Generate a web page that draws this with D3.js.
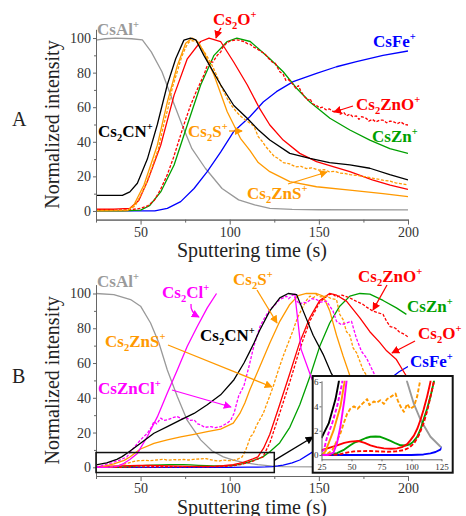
<!DOCTYPE html>
<html lang="en">
<head>
<meta charset="utf-8">
<style type="text/css">
  body { margin: 0; background: #fff; }
  svg { display: block; }
  .lbl { font-weight: bold; font-size: 17px; }
  .title { font-size: 20px; fill: #222; }
  .curve { fill: none; stroke-width: 1.3px; stroke-linejoin: round; }
  .inset .curve { stroke-width: 1.9px; }
  .dash { stroke-dasharray: 3,1.6; }
  .inset .dash { stroke-dasharray: 4,2; }
</style>
</head>
<body>
<div id="chart"></div>
<script src="https://d3js.org/d3.v7.min.js"></script>
<script>
// axes
var xTicks = [50, 100, 150, 200], xMinor = [25, 75, 125, 175];
var yTicks = [0, 20, 40, 60, 80, 100], yMinor = [10, 30, 50, 70, 90];
var insetXTicks = [25, 50, 75, 100, 125], insetYTicks = [0, 2, 4, 6];

// panel A  -- [sputtering time (s), normalized intensity]
var aCsAl = [[25,98.8],[30,99.6],[36,100],[45,99.6],[51,99],[56,92],[62,80.5],[67.6,65],[73.2,50],[78.8,36],[86.3,24.7],[95.7,13],[105,6.4],[114,3.5],[122.5,1.5],[135,0.9],[150,0.7],[200,0.6]];
var aCs2CN = [[25,9],[32,9],[39.8,9],[44,11],[48.2,16],[53.8,30],[59.4,50],[65,73],[69.7,88],[74.3,98.8],[78,100],[81,99],[85.5,90],[94.9,73],[102.3,61],[109.8,53.6],[116,47],[122.5,41],[133.7,33.3],[145,30.4],[156,28],[167.4,26.6],[178.6,24.7],[189.8,21],[200,18]];
var aCs2S = [[25,0],[42.6,0.2],[46,3],[51.9,15],[59.4,38],[65,63],[70.6,84],[75.3,97],[79,100],[82,98],[85.5,92],[91.2,78.6],[98.6,57.4],[106,42],[111.3,35],[116,28],[122.5,22.7],[133.7,17],[148.7,14],[167.4,12],[186,10],[200,8.3]];
var aCs2ZnS = [[25,0.3],[35,0.3],[43,0.5],[47,3],[52.5,14],[56,24],[60,36],[63,50],[65.5,60],[68,72],[71,82],[73,89],[75.5,95],[77,97.5],[79,98.5],[81,98],[83,96.5],[85,93],[87,90],[89.5,85.5],[92,80],[95,72.5],[98.6,65],[101,61],[104,57],[106.5,54.5],[109,52.5],[111,51],[113.6,49],[116,43],[118,40.5],[120,37.5],[122.5,34.5],[125,31.5],[127,30.5],[130,28],[133.7,27.2],[137,25.5],[140,25.8],[143,24.5],[146,24.9],[150,23.6],[153,23.9],[156,22.6],[159,22.9],[162,21.9],[165,21.6],[167.4,21],[171,20.6],[175,19.9],[180,19],[186,17.8],[190,17.2],[193,16.3],[197,15.6],[200,15]];
var aCs2O = [[25,1],[35,1],[44,1.5],[49,6],[53.8,17],[61.3,38],[68.8,67],[76.2,88],[83.7,98],[88.4,100],[94.9,98],[102.3,86],[109.8,73],[116.9,59],[122.5,49.7],[130,41],[139.3,33.3],[148.7,28.5],[158,25.6],[167.4,22.7],[180,18],[190,15],[200,12.5]];
var aCs2ZnO = [[25,0.6],[35,0.5],[45,0.8],[50,1.5],[54,3],[57.6,6],[61,12],[65,21],[68.5,31],[72.5,44],[75,52],[78,61],[81,68.5],[83,73],[85.5,78.6],[87,83],[89,86.5],[90.5,86],[93,90],[95,92],[96,94.5],[98.6,97.5],[101,98.5],[104,99],[106,98.5],[108,98],[109.8,96.8],[111.3,96.5],[113,95],[115,94],[117,92.5],[118.8,91.5],[120,90.5],[122,88],[124,86],[125.5,85.5],[128.1,80.5],[130,79],[131.5,75.5],[133,76],[135.6,73],[137,71],[138.5,72.5],[140,69],[142.1,66],[144,64],[145,65],[146.5,62],[148.7,61],[150.5,59.5],[152,60],[154,58.5],[156,59],[158,57.5],[160,58],[162,56],[164,57],[165.5,55],[167.4,56],[169,54.5],[171,55],[172.5,53],[174,54.5],[176.7,53.5],[178,52],[180,53],[182,51.5],[184,52.5],[186,52.5],[188,51],[190,52],[192,51.5],[194,50.5],[196,51.5],[198,50],[200,49.7]];
var aCsZn = [[25,0],[40,0],[50,0.5],[55,3],[61.3,11],[68.8,26.6],[76.2,49.7],[83.7,72.8],[91.2,90],[98.6,98],[104,100],[111.5,98],[116,94],[122.5,88],[130,80.5],[137.5,71],[145,63],[156.2,53.6],[167.4,46.8],[178.6,41],[189.8,36],[200,33.3]];
var aCsFe = [[25,0],[58,0],[65,1.5],[72.5,5.4],[80,13],[87.4,22.7],[94.9,34],[102.3,46],[111.3,54.5],[118.8,63],[126.2,69],[135.6,74.8],[148.7,79.6],[159.9,83.4],[171.1,86.3],[186,90],[200,92.5]];

// panel B
var bCsAl = [[25,100],[35,99.4],[44.4,96.5],[50,92.7],[55.6,83],[60.3,71.5],[65,56],[70.6,40.7],[76.2,27],[83.7,15.8],[90,9.5],[96.4,6],[102,4.2],[107.5,2.9],[115.8,1.5],[124,0.7],[130,0.4],[150,0.2],[200,0.2]];
var bCs2ClRise = [[25,0],[30,0],[35,0.2],[38,1],[40.7,2.3],[44,4.5],[48.2,8],[53.8,17.7],[59.4,29],[65,42.7],[70.6,56],[76.2,69.6],[81.8,81],[87.4,91.7],[92.6,100]];
var bCs2ClFall = [[136.5,100],[140,68],[146,51],[152,38],[160,25],[175,10],[200,3]];
var bCsZnCl = [[25,0.3],[27,0.4],[29.7,1.5],[33.9,2.6],[38,4],[42.2,5.9],[46,11],[50,15.8],[53.8,19.6],[56,23],[57.5,26.3],[59,25],[61.3,28.3],[63,27],[65,27.3],[68,28.5],[70.6,29.2],[73,28],[76,28.3],[78,27],[80,27.3],[82,25],[83.7,24.4],[86,23],[89.3,23.4],[92,22.8],[95,23.4],[98.6,25.4],[100.5,27],[102.4,31],[105,41],[106.5,44],[108,47],[110.8,58],[113.6,70],[117,81],[119,85],[122.5,90.8],[125,93],[128,96.5],[130,97.5],[131.8,98.5],[133,97],[135.6,99.4],[137.5,96],[139.3,93.7],[141,95],[143,94.6],[146,97],[148.7,96.5],[151,95],[154.3,95.6],[156,93],[158,89.8],[159.9,84],[162.7,82],[165.5,83],[168.3,84],[171,74.4],[173.9,66.7],[176.7,63],[179.5,57],[181.4,53],[184,46],[190,35],[200,25]];
var bCs2CN = [[25,1.4],[28,2],[31,2.6],[36.7,4.6],[39.4,6],[43,8.5],[50,13.8],[57.5,19.6],[65,23.4],[72.5,27.3],[80,31],[87.4,36],[94.9,41.7],[102.4,50.4],[108,60],[111.3,66.7],[113.6,71.5],[116.9,79],[122.5,90],[128.1,97.5],[132.8,100],[137.5,99.4],[141.2,90],[146.8,76],[152.4,65],[157,54],[165,40],[175,25],[190,12],[200,8]];
var bCs2S = [[25,0],[28.3,0.3],[35,2],[40.8,4],[44,5.9],[49.7,10.4],[57.5,13.8],[65,15.8],[72.5,17.5],[80,19],[87.4,20.5],[94.9,22],[102,25.4],[105.7,31],[108.5,37],[111.3,44.6],[116.9,58],[122.5,71.5],[128.1,84],[133.7,93.7],[138.4,98.8],[143,100],[148.7,100],[152.4,98.5],[156.1,90],[159.9,76],[163.6,64],[167.3,53],[175,32],[185,16],[200,6]];
var bCs2ZnS = [[25,0],[30,0.1],[34,0.4],[37,1],[40.8,1.8],[43.5,2.6],[46.4,3.4],[49,3.8],[52,4],[55,3.8],[58.9,4.2],[61,4.4],[63,4.6],[65,4.1],[68.6,4.4],[71,4.3],[74,4.5],[77,4.2],[79.7,4.6],[83,4.8],[86.7,5.05],[88.5,4.5],[90.8,4],[93.6,3.55],[96.4,4.2],[99,3.8],[102,4],[104.7,4.8],[107,6],[109,10],[111.7,17.7],[113,19],[115,24],[118.8,31],[121,37],[124.4,46.5],[127,55],[130,64],[133,72],[135.6,79],[138,86],[141.2,92.7],[143,96],[145,98.5],[147,97.5],[148.7,99.4],[151,98],[154.3,98.5],[157,97],[159.9,96.5],[161.7,88],[163.6,85],[165.5,78],[167.4,76],[169.2,68.7],[171.1,66],[173,61],[174.8,56],[176.7,53],[180,46],[190,30],[200,18]];
var bCs2O = [[25,0.4],[30,0.55],[38,0.8],[44,1],[49,1.1],[56,1.15],[61,1],[65.8,0.8],[71,0.65],[77,0.55],[83,0.52],[88,0.55],[92,0.65],[96.4,0.9],[99,1.2],[102,1.6],[105,2.2],[107.5,2.9],[110,3.7],[113,4.8],[115.8,6],[119,11],[122.5,19],[128,36],[133.7,54],[139.3,72],[144.9,86],[150.5,96],[156,100],[160,99],[165.5,95.6],[173,86],[178.6,78],[184,72],[188,67],[193.5,62],[197,56],[200,51]];
var bCs2ZnO = [[25,0],[35,0.02],[40,0.05],[46,0.2],[52,0.3],[58,0.32],[65.8,0.33],[72,0.3],[80,0.27],[87,0.3],[93.6,0.4],[98,0.6],[102,0.95],[106,1.6],[110,2.6],[113,3.6],[115.8,4.8],[118.6,6],[122.5,14],[128,31],[133.7,49],[139.3,68],[144.9,84],[150.5,95],[154,98],[156,99.5],[158,99.4],[160,98],[163,99],[167.3,97.5],[170,96],[174.8,93.7],[177,92],[180.4,89.8],[183,89],[186,88],[188,84],[190,81],[193,80],[195,78],[198,76.5],[200,75]];
var bCsZn = [[25,0],[30,0.05],[38,0.15],[44,0.45],[49,0.8],[53,1.05],[57.5,1.2],[62,1.4],[65.8,1.5],[70,1.52],[74,1.5],[78,1.35],[82.5,1.17],[87,0.95],[90.8,0.8],[95,0.78],[98,0.85],[101,1.05],[104.7,1.5],[107.5,2.1],[110,2.9],[113,3.8],[115.8,4.8],[118.6,6],[122.5,9],[128,14],[133.7,23],[139.3,36],[144.9,52],[150.5,69.6],[156.1,83],[161.7,92.7],[167.4,98.5],[173,100],[178.6,99.6],[186,96],[193.5,91.7],[199.1,88]];
var bCsFe = [[25,0],[60,0],[100,0],[110,0.05],[115.8,0.14],[120,0.25],[124,0.45],[127,0.8],[130,1.3],[135,2.6],[139.3,4.2],[146.8,9],[155,17],[165,28],[175,38],[185,47],[195,55],[200,58]];

var GRAY = "#999", BLACK = "#000", ORANGE = "#ff9900", RED = "#ff0000",
    GREEN = "#00a000", BLUE = "#0000ff", MAGENTA = "#ff00ff";
var FONT = "'Liberation Serif', 'DejaVu Serif', 'Liberation Sans', Arial, sans-serif";

var seriesA = [
    {d: aCsAl, c: GRAY}, {d: aCsFe, c: BLUE}, {d: aCsZn, c: GREEN},
    {d: aCs2ZnO, c: RED, dash: true}, {d: aCs2O, c: RED},
    {d: aCs2ZnS, c: ORANGE, dash: true}, {d: aCs2S, c: ORANGE}, {d: aCs2CN, c: BLACK}
];
var seriesB = [
    {d: bCsAl, c: GRAY}, {d: bCsFe, c: BLUE}, {d: bCsZn, c: GREEN},
    {d: bCs2ZnO, c: RED, dash: true}, {d: bCs2O, c: RED},
    {d: bCs2ZnS, c: ORANGE, dash: true}, {d: bCs2S, c: ORANGE},
    {d: bCsZnCl, c: MAGENTA, dash: true}, {d: bCs2ClRise, c: MAGENTA}, {d: bCs2ClFall, c: MAGENTA},
    {d: bCs2CN, c: BLACK}
];

var svg = d3.select("#chart").append("svg").attr("width", 466).attr("height", 516)
    .style("font-family", FONT);

var colors = [GRAY, BLACK, ORANGE, RED, GREEN, BLUE, MAGENTA];
var defs = svg.append("defs");
colors.forEach(function (c, i) {
    defs.append("marker").attr("id", "ah" + i)
        .attr("viewBox", "0 0 10 10").attr("refX", 9).attr("refY", 5)
        .attr("markerWidth", 8).attr("markerHeight", 8)
        .attr("markerUnits", "userSpaceOnUse").attr("orient", "auto")
        .append("path").attr("d", "M0,0 L10,5 L0,10 z").attr("fill", c);
});
function arrow(path, c) {
    svg.append("path").attr("d", path).attr("fill", "none").attr("stroke", c)
        .attr("stroke-width", 1.3).attr("marker-end", "url(#ah" + colors.indexOf(c) + ")");
}

// "_x" -> subscript, "^x" -> superscript
function label(x, y, str, c) {
    var t = svg.append("text").attr("class", "lbl").attr("x", x).attr("y", y).attr("fill", c);
    var cur = 0, i = 0;
    while (i < str.length) {
        var kind = 0, txt;
        if (str[i] === "_") { kind = 4; txt = str[i + 1]; i += 2; }
        else if (str[i] === "^") { kind = -7; txt = str[i + 1]; i += 2; }
        else { txt = ""; while (i < str.length && str[i] !== "_" && str[i] !== "^") txt += str[i++]; }
        var ts = t.append("tspan").attr("dy", kind - cur).text(txt);
        if (kind !== 0) ts.attr("font-size", 10.5);
        cur = kind;
    }
}

function styleAxis(g, size) {
    g.attr("font-family", null).attr("font-size", size);
    g.select(".domain").attr("stroke", "#666");
    g.selectAll(".tick line").attr("stroke", "#666");
    g.selectAll("text").attr("fill", "#333");
}

var x = d3.scaleLinear().domain([25, 200]).range([96, 408]);

function panel(y, series, name, letter, letterY) {
    var clipId = "clip" + name;
    defs.append("clipPath").attr("id", clipId).append("rect")
        .attr("x", x(25)).attr("y", y(105)).attr("width", x(200) - x(25)).attr("height", y(-5) - y(105));

    var line = d3.line().x(function (d) { return x(d[0]); }).y(function (d) { return y(d[1]); });
    var g = svg.append("g").attr("clip-path", "url(#" + clipId + ")");
    series.forEach(function (s) {
        g.append("path").attr("class", "curve" + (s.dash ? " dash" : ""))
            .attr("stroke", s.c).attr("d", line(s.d));
    });

    var bottom = y(-5);
    svg.append("g").attr("transform", "translate(0," + bottom + ")")
        .call(d3.axisBottom(x).tickValues(xMinor).tickSize(3).tickSizeOuter(0).tickFormat(""))
        .call(function (g) { styleAxis(g, 14); });
    svg.append("g").attr("transform", "translate(0," + bottom + ")")
        .call(d3.axisBottom(x).tickValues(xTicks).tickSize(5).tickPadding(2).tickSizeOuter(0).tickFormat(d3.format("d")))
        .call(function (g) { styleAxis(g, 14); });
    svg.append("g").attr("transform", "translate(" + x(25) + ",0)")
        .call(d3.axisLeft(y).tickValues(yMinor).tickSize(2).tickSizeOuter(0).tickFormat(""))
        .call(function (g) { styleAxis(g, 14); });
    svg.append("g").attr("transform", "translate(" + x(25) + ",0)")
        .call(d3.axisLeft(y).tickValues(yTicks).tickSize(3).tickPadding(2).tickSizeOuter(0).tickFormat(d3.format("d")))
        .call(function (g) { styleAxis(g, 14); });

    svg.append("text").attr("class", "title").attr("text-anchor", "middle")
        .attr("transform", "translate(59," + ((y(-5) + y(105)) / 2) + ") rotate(-90)")
        .text("Normalized intensity");
    svg.append("text").attr("class", "title").attr("text-anchor", "middle")
        .attr("x", (x(25) + x(200)) / 2).attr("y", bottom + 37.5)
        .text("Sputtering time (s)");
    svg.append("text").attr("x", 12).attr("y", letterY).attr("font-size", 20).attr("fill", "#222").text(letter);
}

var yA = d3.scaleLinear().domain([-5, 105]).range([219.6, 29.4]);
var yB = d3.scaleLinear().domain([-5, 105]).range([476, 284.8]);

panel(yA, seriesA, "A", "A", 126);
panel(yB, seriesB, "B", "B", 383);

// panel A labels
label(97, 35, "CsAl^+", "#9a9a9a");
label(213, 25, "Cs_2O^+", RED);
arrow("M221,28 Q218,32 216,38", RED);
label(373, 46.5, "CsFe^+", BLUE);
label(356, 109.5, "Cs_2ZnO^+", RED);
arrow("M353,106 L334,112", RED);
label(372, 141.5, "CsZn^+", GREEN);
label(98, 137, "Cs_2CN^+", BLACK);
label(188, 137, "Cs_2S^+", ORANGE);
arrow("M229,131 L242,131", ORANGE);
label(247, 199, "Cs_2ZnS^+", ORANGE);
arrow("M288,184 L327,172", ORANGE);

// panel B labels
label(97, 287, "CsAl^+", "#9a9a9a");
label(162, 298, "Cs_2Cl^+", MAGENTA);
arrow("M191,304 Q190,312 199,317", MAGENTA);
label(233, 285, "Cs_2S^+", ORANGE);
arrow("M257,290 L277,323", ORANGE);
label(200, 341, "Cs_2CN^+", BLACK);
label(105, 347, "Cs_2ZnS^+", ORANGE);
arrow("M168,345 L272,387", ORANGE);
label(98, 393.5, "CsZnCl^+", MAGENTA);
arrow("M172,390 L231,407", MAGENTA);
label(358, 281.5, "Cs_2ZnO^+", RED);
arrow("M387,285 L373,310", RED);
label(407, 311.5, "CsZn^+", GREEN);
label(418, 339, "Cs_2O^+", RED);
arrow("M415,341 L392,353", RED);
label(410, 367, "CsFe^+", BLUE);

// zoom box in panel B and the inset
svg.append("rect").attr("x", x(25)).attr("y", yB(8.5))
    .attr("width", x(125) - x(25)).attr("height", yB(-3) - yB(8.5))
    .attr("fill", "none").attr("stroke", "#111").attr("stroke-width", 1.5);
arrow("M" + x(125) + "," + yB(4) + " L313,437", BLACK);

svg.append("rect").attr("x", 312.7).attr("y", 376).attr("width", 140).attr("height", 96.7)
    .attr("fill", "#fff").attr("stroke", "#111").attr("stroke-width", 2);

var xi = d3.scaleLinear().domain([25, 125]).range([321.5, 441.5]);
var yi = d3.scaleLinear().domain([-0.35, 6.1]).range([459.3, 380.8]);
defs.append("clipPath").attr("id", "clipInset").append("rect")
    .attr("x", xi(25)).attr("y", yi(6.1)).attr("width", xi(125) - xi(25)).attr("height", yi(-0.35) - yi(6.1));

var ins = svg.append("g").attr("class", "inset");
var lineI = d3.line().x(function (d) { return xi(d[0]); }).y(function (d) { return yi(d[1]); });
var gi = ins.append("g").attr("clip-path", "url(#clipInset)");
seriesB.forEach(function (s) {
    gi.append("path").attr("class", "curve" + (s.dash ? " dash" : ""))
        .attr("stroke", s.c).attr("d", lineI(s.d));
});
ins.append("g").attr("transform", "translate(0," + yi(-0.35) + ")")
    .call(d3.axisBottom(xi).tickValues(insetXTicks).tickSize(2).tickPadding(2).tickSizeOuter(0).tickFormat(d3.format("d")))
    .call(function (g) { styleAxis(g, 9); });
ins.append("g").attr("transform", "translate(" + xi(25) + ",0)")
    .call(d3.axisLeft(yi).tickValues(insetYTicks).tickSize(2).tickPadding(1).tickSizeOuter(0).tickFormat(d3.format("d")))
    .call(function (g) { styleAxis(g, 9); });
</script>
</body>
</html>
